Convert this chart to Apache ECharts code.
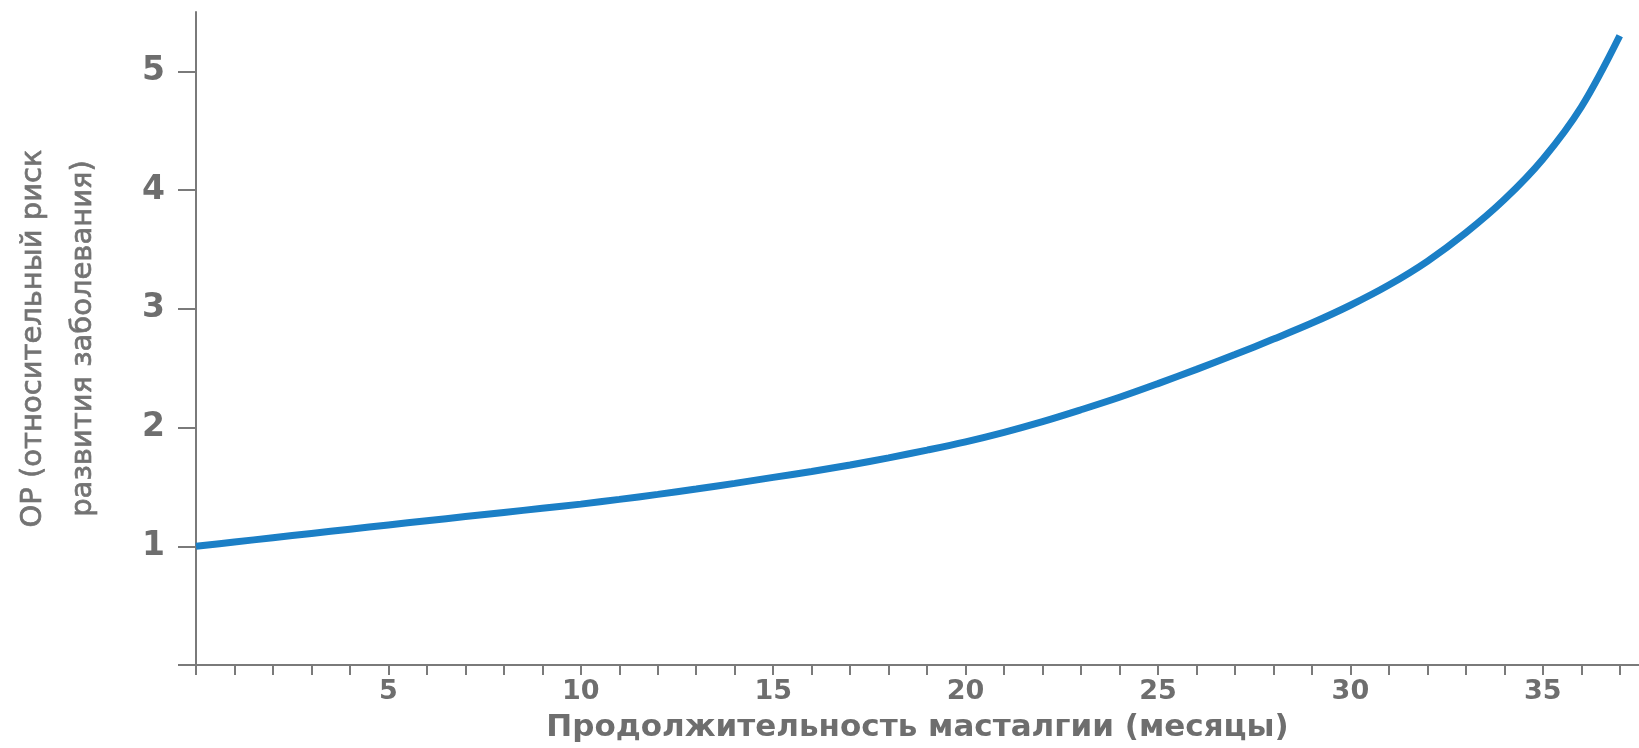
<!DOCTYPE html>
<html>
<head>
<meta charset="utf-8">
<script src="https://cdn.jsdelivr.net/npm/echarts@6/dist/echarts.min.js"></script>
<style>
html,body{margin:0;padding:0;background:#fff;}
#chart{width:1639px;height:748px;}
</style>
</head>
<body>
<div id="chart"></div>
<script>
// Data (relative risk by duration, months)
const months = [0,1,2,3,4,5,6,7,8,9,10,11,12,13,14,15,16,17,18,19,20,21,22,23,24,25,26,27,28,29,30,31,32,33,34,35,36,37];
const risk   = [1.000,1.036,1.072,1.108,1.144,1.180,1.215,1.250,1.285,1.320,1.355,1.395,1.437,1.482,1.530,1.580,1.630,1.685,1.745,1.810,1.880,1.960,2.050,2.150,2.255,2.370,2.490,2.615,2.745,2.880,3.030,3.200,3.400,3.640,3.920,4.260,4.700,5.300];
const xTickValues = [0,1,2,3,4,5,6,7,8,9,10,11,12,13,14,15,16,17,18,19,20,21,22,23,24,25,26,27,28,29,30,31,32,33,34,35,36,37];
const xLabelValues = [5, 10, 15, 20, 25, 30, 35];
const yTickValues = [0, 1, 2, 3, 4, 5];
const yLabelValues = [1, 2, 3, 4, 5];
const xTitle = 'Продолжительность масталгии (месяцы)';
const yTitle = 'ОР (относительный риск\nразвития заболевания)';

const gray = '#6e6e6e';
const axisGray = '#7a7a7a';
const font = 'DejaVu Sans';

const chart = echarts.init(document.getElementById('chart'));
chart.setOption({
  animation: false,
  backgroundColor: '#fff',
  grid: { left: 187, right: 0, top: 12, bottom: 81 },
  xAxis: {
    type: 'value',
    min: 0, max: 37.5,
    name: xTitle,
    nameLocation: 'middle',
    nameGap: 47,
    nameTextStyle: { color: gray, fontSize: 31, fontWeight: 'bold', fontFamily: font },
    axisLine: { show: true, lineStyle: { color: axisGray, width: 2 } },
    axisTick: { show: true, length: 10, customValues: xTickValues, lineStyle: { color: axisGray, width: 2 } },
    axisLabel: { customValues: xLabelValues, margin: 13, color: gray, fontSize: 27, fontWeight: 'bold', fontFamily: font },
    splitLine: { show: false }
  },
  yAxis: {
    type: 'value',
    min: 0, max: 5.5,
    name: yTitle,
    nameLocation: 'middle',
    nameGap: 88,
    nameTextStyle: { color: '#737373', fontSize: 29, fontWeight: 'normal', fontFamily: font, lineHeight: 50,
                     textBorderColor: '#737373', textBorderWidth: 0.7 },
    axisLine: { show: true, lineStyle: { color: axisGray, width: 2 } },
    axisTick: { show: true, length: 18, customValues: yTickValues, lineStyle: { color: axisGray, width: 2 } },
    axisLabel: { customValues: yLabelValues, margin: 31, color: gray, fontSize: 33, fontWeight: 'bold', fontFamily: font },
    splitLine: { show: false }
  },
  series: [{
    type: 'line',
    data: months.map((m, i) => [m, risk[i]]),
    smooth: 0.35,
    showSymbol: false,
    symbol: 'none',
    lineStyle: { color: '#1b7fc6', width: 7, cap: 'butt' }
  }]
});
</script>
</body>
</html>
